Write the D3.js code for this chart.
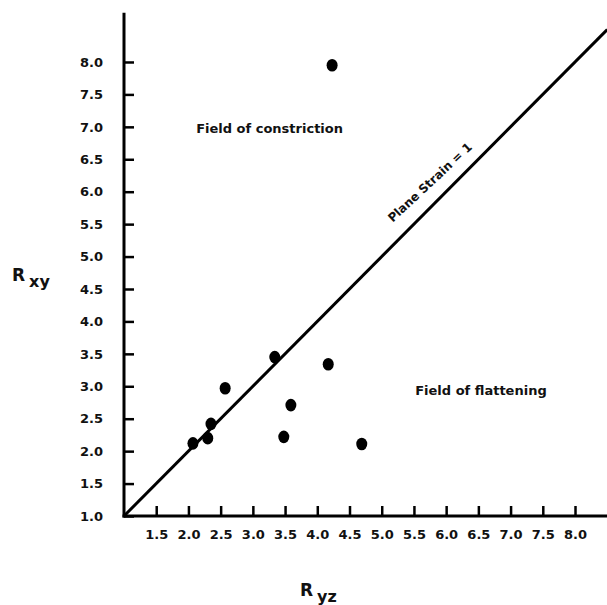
<!DOCTYPE html>
<html>
<head>
<meta charset="utf-8">
<script src="https://cdn.jsdelivr.net/npm/d3@7"></script>
<style>
  html, body { margin: 0; padding: 0; background: #fff; }
  svg { display: block; }
  text { font-family: "DejaVu Sans", sans-serif; font-weight: bold; fill: #111; }
</style>
</head>
<body>
<svg id="chart" width="607" height="605"></svg>
<script>
// Strain ratios measured per sample
const ryz = [2.07, 2.30, 2.35, 2.57, 3.34, 4.17, 3.59, 3.48, 4.69, 4.23];
const rxy = [2.12, 2.20, 2.42, 2.97, 3.45, 3.34, 2.71, 2.22, 2.11, 7.95];

// Tick values on each axis
const xTicks = [1.5, 2.0, 2.5, 3.0, 3.5, 4.0, 4.5, 5.0, 5.5, 6.0, 6.5, 7.0, 7.5, 8.0];
const yTicks = [1.0, 1.5, 2.0, 2.5, 3.0, 3.5, 4.0, 4.5, 5.0, 5.5, 6.0, 6.5, 7.0, 7.5, 8.0];

// Plane strain reference line (k = 1): Rxy = Ryz
const planeStrain = [1.0, 8.5];

const svg = d3.select("#chart");
const x0 = 124, y0 = 516;

const x = d3.scaleLinear().domain([1, 8.5]).range([x0, x0 + 7.5 * 64.43]);
const y = d3.scaleLinear().domain([1, 8.76]).range([y0, y0 - 7.76 * 64.86]);

// Diagonal plane-strain line
svg.append("line")
  .attr("x1", x(planeStrain[0])).attr("y1", y(planeStrain[0]))
  .attr("x2", x(planeStrain[1])).attr("y2", y(planeStrain[1]))
  .attr("stroke", "#000").attr("stroke-width", 3);

// X axis with inward ticks
const xAxis = d3.axisBottom(x).tickValues(xTicks).tickFormat(d3.format(".1f"))
  .tickSize(-10).tickPadding(14);
const gx = svg.append("g").attr("transform", `translate(0,${y0})`).call(xAxis);
gx.select(".domain").remove();
gx.selectAll(".tick line").attr("stroke", "#000").attr("stroke-width", 2.5);
gx.selectAll(".tick text").attr("font-size", 13).attr("font-family", "DejaVu Sans").attr("font-weight", "bold").attr("fill", "#111");

// Y axis with inward ticks
const yAxis = d3.axisLeft(y).tickValues(yTicks).tickFormat(d3.format(".1f"))
  .tickSize(-10).tickPadding(21);
const gy = svg.append("g").attr("transform", `translate(${x0},0)`).call(yAxis);
gy.select(".domain").remove();
gy.selectAll(".tick line").attr("stroke", "#000").attr("stroke-width", 2.5);
gy.selectAll(".tick text").attr("font-size", 13).attr("font-family", "DejaVu Sans").attr("font-weight", "bold").attr("fill", "#111");

// Axis lines
svg.append("line").attr("x1", x0 - 1.5).attr("x2", 607).attr("y1", y0).attr("y2", y0)
  .attr("stroke", "#000").attr("stroke-width", 3);
svg.append("line").attr("x1", x0).attr("x2", x0).attr("y1", y0 + 1.5).attr("y2", y(8.76))
  .attr("stroke", "#000").attr("stroke-width", 3);

// Sample points
svg.append("g").selectAll("ellipse")
  .data(ryz.map((v, i) => ({ ryz: v, rxy: rxy[i] })))
  .join("ellipse")
  .attr("cx", d => x(d.ryz)).attr("cy", d => y(d.rxy))
  .attr("rx", 5.5).attr("ry", 6.3)
  .attr("fill", "#000");

// Field annotations
svg.append("text").attr("x", x(2.12)).attr("y", y(6.90))
  .attr("font-size", 13).text("Field of constriction");
svg.append("text").attr("x", x(5.52)).attr("y", y(2.87))
  .attr("font-size", 13).text("Field of flattening");

// Label along the plane strain line
const lx = x(5.17), ly = y(5.52);
svg.append("text")
  .attr("transform", `translate(${lx},${ly}) rotate(-43)`)
  .attr("font-size", 12).text("Plane Strain = 1");

// Axis titles
const yt = svg.append("text").attr("x", 12).attr("y", 281).attr("font-size", 17);
yt.append("tspan").text("R");
yt.append("tspan").attr("dx", 4).attr("dy", 6).attr("font-size", 16).text("xy");

const xt = svg.append("text").attr("x", 300).attr("y", 596).attr("font-size", 17);
xt.append("tspan").text("R");
xt.append("tspan").attr("dx", 4).attr("dy", 6).attr("font-size", 16).text("yz");
</script>
</body>
</html>
